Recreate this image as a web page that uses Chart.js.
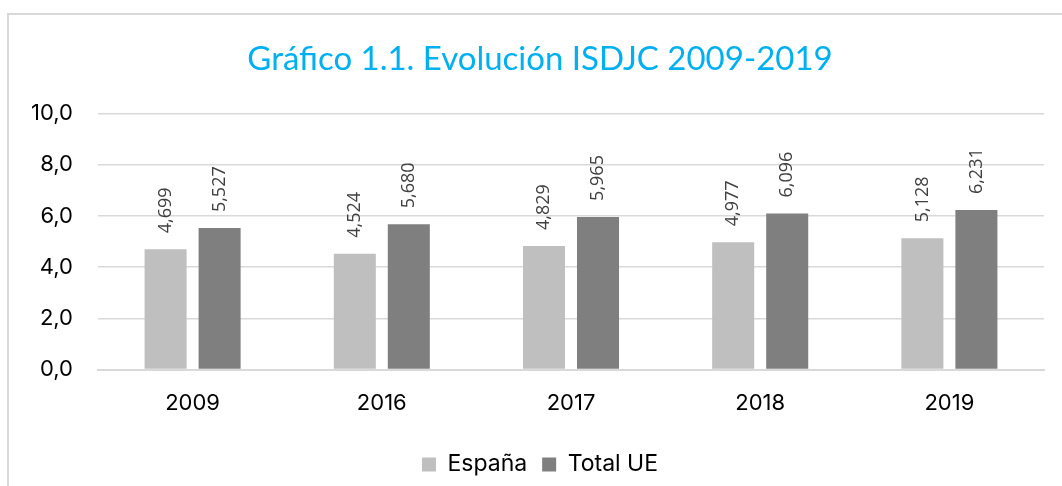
<!DOCTYPE html>
<html>
<head>
<meta charset="utf-8">
<script src="https://cdn.jsdelivr.net/npm/chart.js@4/dist/chart.umd.min.js"></script>
<style>
  html, body { margin: 0; padding: 0; background: #ffffff; }
  #wrap { position: relative; width: 1062px; height: 486px; overflow: hidden; }
  canvas { position: absolute; left: 0; top: 0; }
</style>
</head>
<body>
<div id="wrap"><canvas id="c" width="1062" height="486"></canvas></div>
<script>
const categories = ['2009', '2016', '2017', '2018', '2019'];
const espana = [4.699, 4.524, 4.829, 4.977, 5.128];
const totalUE = [5.527, 5.680, 5.965, 6.096, 6.231];
const seriesNames = ['España', 'Total UE'];
const chartTitle = 'Gráfico 1.1. Evolución ISDJC 2009-2019';

const fmt = (v, d) => v.toFixed(d).replace('.', ',');

const frame = {
  id: 'frame',
  beforeDraw(chart) {
    const ctx = chart.ctx;
    ctx.save();
    ctx.fillStyle = '#ffffff';
    ctx.fillRect(0, 0, chart.width, chart.height);
    ctx.strokeStyle = '#d9d9d9';
    ctx.lineWidth = 2;
    ctx.strokeRect(8, 14, 1200, 600);
    ctx.restore();
  }
};

const barLabels = {
  id: 'barLabels',
  afterDatasetsDraw(chart) {
    const ctx = chart.ctx;
    ctx.save();
    ctx.fillStyle = '#404040';
    ctx.font = '18px "Open Sans"';
    ctx.textAlign = 'left';
    ctx.textBaseline = 'middle';
    chart.data.datasets.forEach((ds, i) => {
      const meta = chart.getDatasetMeta(i);
      meta.data.forEach((bar, j) => {
        ctx.save();
        ctx.translate(bar.x, bar.y - 16);
        ctx.rotate(-Math.PI / 2);
        ctx.fillText(fmt(ds.data[j], 3), 0, 0);
        ctx.restore();
      });
    });
    ctx.restore();
  }
};

new Chart(document.getElementById('c'), {
  type: 'bar',
  data: {
    labels: categories,
    datasets: [
      { label: seriesNames[0], data: espana, backgroundColor: '#bfbfbf' },
      { label: seriesNames[1], data: totalUE, backgroundColor: '#7f7f7f' }
    ]
  },
  options: {
    responsive: false,
    animation: false,
    devicePixelRatio: 1,
    categoryPercentage: 0.571,
    barPercentage: 0.778,
    layout: { padding: { left: 18, right: 0, top: 0, bottom: 0 } },
    plugins: {
      title: {
        display: true,
        text: chartTitle,
        color: '#00b0f0',
        font: { family: 'Lato', size: 33, weight: 'normal' },
        padding: { top: 40, bottom: 34 }
      },
      legend: {
        position: 'bottom',
        labels: {
          boxWidth: 14,
          boxHeight: 14,
          padding: 15,
          color: '#000000',
          font: { family: 'Inter', size: 23 }
        }
      },
      tooltip: { enabled: false }
    },
    scales: {
      x: {
        grid: { display: false, drawTicks: false },
        border: { display: true, color: '#d9d9d9', width: 2 },
        ticks: { color: '#000000', font: { family: 'Inter', size: 22 }, padding: 21 }
      },
      y: {
        min: 0,
        max: 10,
        afterFit(scale) { scale.width = 80; },
        grid: { color: '#d9d9d9', lineWidth: 1.5, drawTicks: false },
        border: { display: false },
        ticks: {
          stepSize: 2,
          padding: 25,
          color: '#000000',
          font: { family: 'Inter', size: 22 },
          callback: (v) => fmt(v, 1)
        }
      },
      yRight: {
        position: 'right',
        min: 0,
        max: 10,
        afterFit(scale) { scale.width = 18; },
        grid: { display: false, drawTicks: false },
        border: { display: false },
        ticks: { display: false }
      }
    }
  },
  plugins: [frame, barLabels]
});
</script>
</body>
</html>
